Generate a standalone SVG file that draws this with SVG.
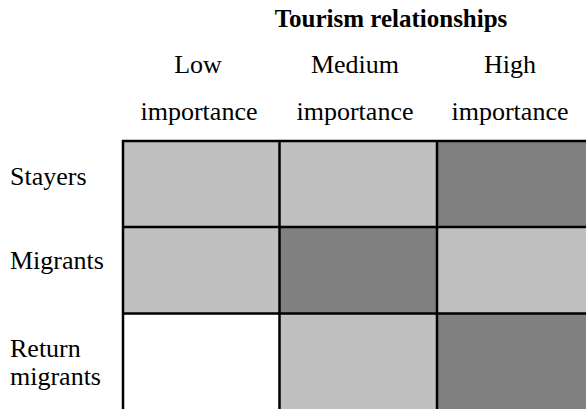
<svg xmlns="http://www.w3.org/2000/svg" width="586" height="409" viewBox="0 0 586 409">
<style>
text{font-family:"Liberation Serif","Times New Roman",serif;font-size:26px;fill:#000}
.t{font-weight:bold;font-size:25px}
.m{text-anchor:middle}
.lt{fill:#c0c0c0}
.dk{fill:#808080}
.wh{fill:#ffffff}
.ln{stroke:#000;stroke-width:2.5;fill:none}
</style>
<rect width="586" height="409" fill="#fff"/>
<g id="headers">
<text class="t m" x="391" y="27">Tourism relationships</text>
<text class="m" x="198" y="73">Low</text>
<text class="m" x="355" y="73">Medium</text>
<text class="m" x="510" y="73">High</text>
<text class="m" x="199" y="120">importance</text>
<text class="m" x="355" y="120">importance</text>
<text class="m" x="510" y="120">importance</text>
</g>
<g id="rows">
<text x="10" y="185">Stayers</text>
<text x="10" y="269">Migrants</text>
<text x="10" y="357">Return</text>
<text x="10" y="385">migrants</text>
</g>
<g id="cells">
<rect id="c11" class="lt" x="123" y="141" width="156.5" height="86"/>
<rect id="c12" class="lt" x="279.5" y="141" width="157.5" height="86"/>
<rect id="c13" class="dk" x="437" y="141" width="160" height="86"/>
<rect id="c21" class="lt" x="123" y="227" width="156.5" height="86.5"/>
<rect id="c22" class="dk" x="279.5" y="227" width="157.5" height="86.5"/>
<rect id="c23" class="lt" x="437" y="227" width="160" height="86.5"/>
<rect id="c31" class="wh" x="123" y="313.5" width="156.5" height="100"/>
<rect id="c32" class="lt" x="279.5" y="313.5" width="157.5" height="100"/>
<rect id="c33" class="dk" x="437" y="313.5" width="160" height="100"/>
</g>
<g id="gridlines" class="ln">
<path d="M123 420V141H600M123 227H600M123 313.5H600M279.5 141V420M437 141V420"/>
</g>
</svg>
